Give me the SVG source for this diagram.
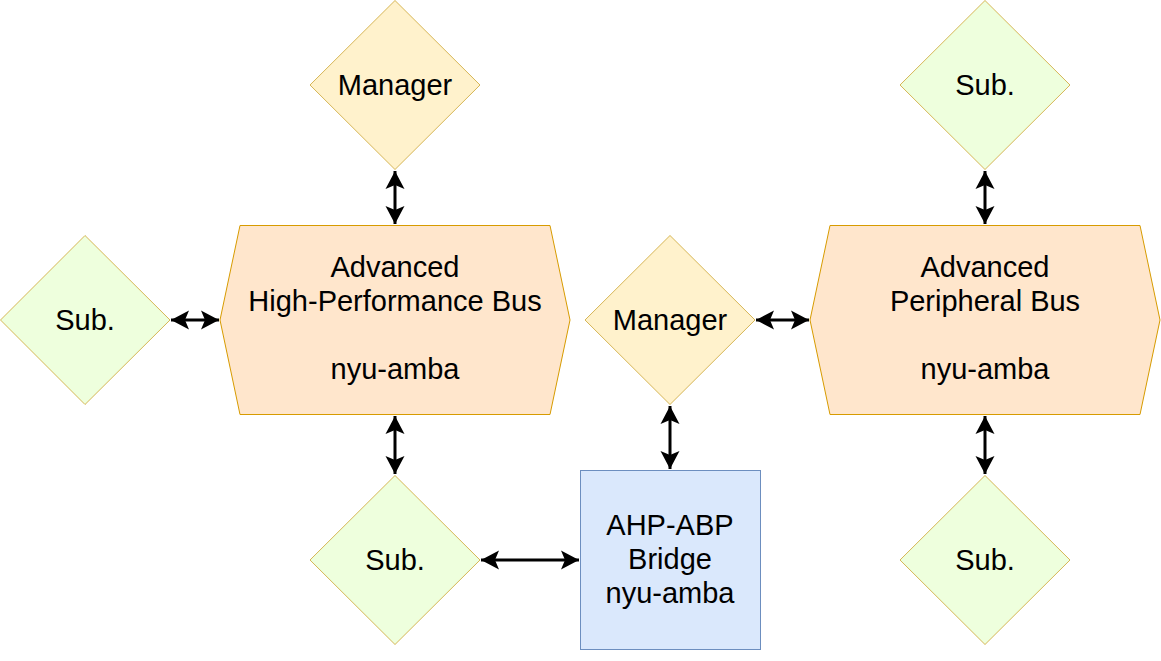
<svg xmlns="http://www.w3.org/2000/svg" width="1161" height="661" viewBox="0 0 1161 661">
<style>
.mgr{fill:#fff2cc;stroke:#d6b656;stroke-width:1}
.sub{fill:#eeffdd;stroke:#d6b656;stroke-width:1}
.bus{fill:#ffe6cc;stroke:#d79b00;stroke-width:1}
.br{fill:#dae8fc;stroke:#6c8ebf;stroke-width:1}
text{font-family:"Liberation Sans",Arial,sans-serif;font-size:29px;fill:#000;text-anchor:middle}
.edge{stroke:#000;stroke-width:3;fill:none;marker-start:url(#arr);marker-end:url(#arr)}
</style>
<defs>
<marker id="arr" markerUnits="userSpaceOnUse" markerWidth="22" markerHeight="22" viewBox="0 0 22 22" refX="19" refY="11" orient="auto-start-reverse">
<path d="M19,11 L1,1.5 L5,11 L1,20.5 z" fill="#000"/>
</marker>
</defs>
<rect width="1161" height="661" fill="#fff"/>
<g id="connectors">
<path class="edge" d="M395,171 L395,224"/>
<path class="edge" d="M171,320 L219,320"/>
<path class="edge" d="M395,416 L395,474"/>
<path class="edge" d="M481,560 L579,560"/>
<path class="edge" d="M670,406 L670,469"/>
<path class="edge" d="M756,320 L809,320"/>
<path class="edge" d="M985,171 L985,224"/>
<path class="edge" d="M985,416 L985,474"/>
</g>
<g id="manager-top">
<polygon class="mgr" points="395,0.5 480,85 395,169.5 310,85"/>
<text x="395" y="95">Manager</text>
</g>
<g id="sub-top-right">
<polygon class="sub" points="985,0.5 1070,85 985,169.5 900,85"/>
<text x="985" y="95">Sub.</text>
</g>
<g id="sub-left">
<polygon class="sub" points="85,235.5 170,320 85,404.5 0.5,320"/>
<text x="85" y="330">Sub.</text>
</g>
<g id="ahb">
<polygon class="bus" points="240,225.5 550,225.5 570,320 550,414.5 240,414.5 220,320"/>
<text x="395" y="277">Advanced</text>
<text x="395" y="311">High-Performance Bus</text>
<text x="395" y="379">nyu-amba</text>
</g>
<g id="manager-mid">
<polygon class="mgr" points="670,235.5 755,320 670,404.5 585,320"/>
<text x="670" y="330">Manager</text>
</g>
<g id="apb">
<polygon class="bus" points="830,225.5 1140,225.5 1160,320 1140,414.5 830,414.5 810,320"/>
<text x="985" y="277">Advanced</text>
<text x="985" y="311">Peripheral Bus</text>
<text x="985" y="379">nyu-amba</text>
</g>
<g id="sub-bottom">
<polygon class="sub" points="395,475.5 480,560 395,644.5 310,560"/>
<text x="395" y="570">Sub.</text>
</g>
<g id="bridge">
<rect class="br" x="580.5" y="470.5" width="180" height="179"/>
<text x="670" y="535">AHP-ABP</text>
<text x="670" y="569">Bridge</text>
<text x="670" y="603">nyu-amba</text>
</g>
<g id="sub-bottom-right">
<polygon class="sub" points="985,475.5 1070,560 985,644.5 900,560"/>
<text x="985" y="570">Sub.</text>
</g>
</svg>
